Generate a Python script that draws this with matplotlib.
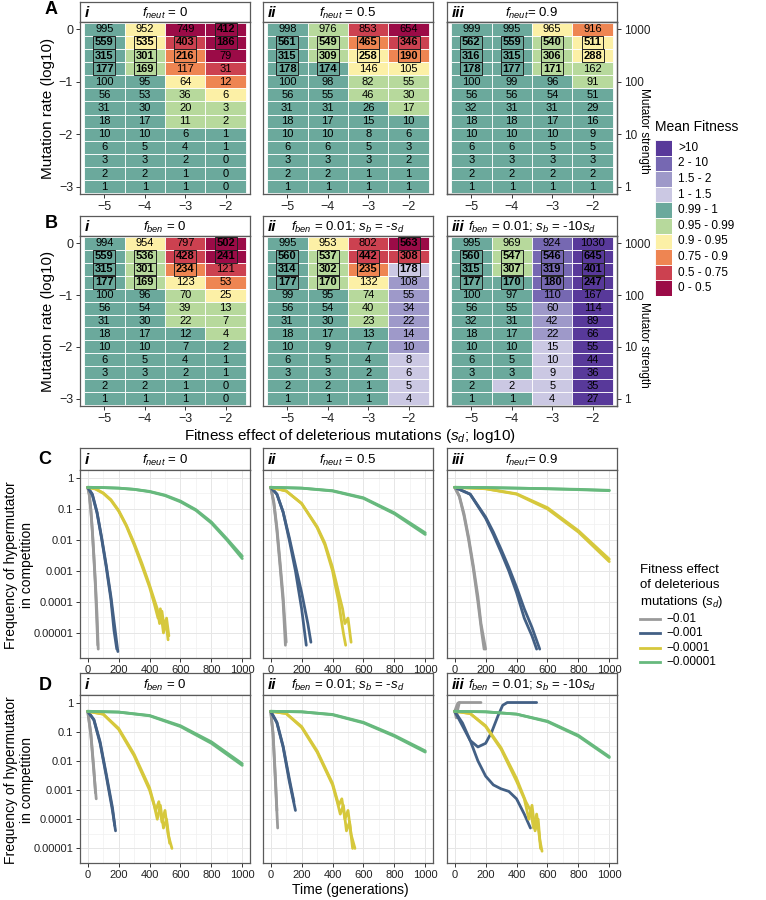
import numpy as np
import matplotlib
matplotlib.use("Agg")
import matplotlib.pyplot as plt
from matplotlib.patches import Rectangle
from matplotlib.lines import Line2D

plt.rcParams['font.family'] = ['Liberation Sans', 'DejaVu Sans']
plt.rcParams['mathtext.fontset'] = 'custom'
plt.rcParams['mathtext.rm'] = 'Liberation Sans'
plt.rcParams['mathtext.it'] = 'Liberation Sans:italic'
plt.rcParams['mathtext.bf'] = 'Liberation Sans:bold'

# ---------------- heatmap data (columns: s_d = -5, -4, -3, -2; rows: mutation rate 0 .. -3) ----
sd_log = [-5, -4, -3, -2]
mut_rate = [0.0, -0.25, -0.5, -0.75, -1.0, -1.25, -1.5, -1.75, -2.0, -2.25, -2.5, -2.75, -3.0]
strength_ticks = [0, -1, -2, -3]
strength_labels = ["1000", "100", "10", "1"]

fit_labels = ["0 - 0.5", "0.5 - 0.75", "0.75 - 0.9", "0.9 - 0.95", "0.95 - 0.99",
              "0.99 - 1", "1 - 1.5", "1.5 - 2", "2 - 10", ">10"]
fit_colors = ["#9b0b47", "#cc4150", "#ee8552", "#fcf0a6", "#b7d99c",
              "#6ba99c", "#cbc8e3", "#9e99c9", "#7668b2", "#58399a"]

a1_counts = [[995, 559, 315, 177, 100, 56, 31, 18, 10, 6, 3, 2, 1],
             [952, 535, 301, 169, 95, 53, 30, 17, 10, 5, 3, 2, 1],
             [749, 403, 216, 117, 64, 36, 20, 11, 6, 4, 2, 1, 1],
             [412, 186, 79, 31, 12, 6, 3, 2, 1, 1, 0, 0, 0]]
a1_cats = [[5] * 13,
           [3, 3, 4, 4, 5, 5, 5, 5, 5, 5, 5, 5, 5],
           [0, 1, 2, 2, 3, 4, 4, 4, 5, 5, 5, 5, 5],
           [0, 0, 0, 1, 2, 3, 4, 4, 5, 5, 5, 5, 5]]
a1_boxed = [[1, 2, 3], [1, 2, 3], [1, 2], [0, 1]]

a2_counts = [[998, 561, 315, 178, 100, 56, 31, 18, 10, 6, 3, 2, 1],
             [976, 549, 309, 174, 98, 55, 31, 17, 10, 6, 3, 2, 1],
             [853, 465, 258, 146, 82, 46, 26, 15, 8, 5, 3, 1, 1],
             [654, 346, 190, 105, 55, 30, 17, 10, 6, 3, 2, 1, 1]]
a2_cats = [[5] * 13,
           [4, 4, 4, 5, 5, 5, 5, 5, 5, 5, 5, 5, 5],
           [1, 2, 3, 3, 4, 4, 5, 5, 5, 5, 5, 5, 5],
           [0, 1, 2, 3, 4, 4, 4, 5, 5, 5, 5, 5, 5]]
a2_boxed = [[1, 2, 3], [1, 2, 3], [1, 2], [1, 2]]

a3_counts = [[999, 562, 316, 178, 100, 56, 32, 18, 10, 6, 3, 2, 1],
             [995, 559, 315, 177, 99, 56, 31, 18, 10, 6, 3, 2, 1],
             [965, 540, 306, 171, 96, 54, 31, 17, 10, 5, 3, 2, 1],
             [916, 511, 288, 162, 91, 51, 29, 16, 9, 5, 3, 2, 1]]
a3_cats = [[5] * 13,
           [5] * 13,
           [3, 4, 4, 4, 5, 5, 5, 5, 5, 5, 5, 5, 5],
           [2, 3, 3, 4, 4, 5, 5, 5, 5, 5, 5, 5, 5]]
a3_boxed = [[1, 2, 3], [1, 2, 3], [1, 2, 3], [1, 2]]

b1_counts = [[994, 559, 315, 177, 100, 56, 31, 18, 10, 6, 3, 2, 1],
             [954, 536, 301, 169, 96, 54, 30, 17, 10, 5, 3, 2, 1],
             [797, 428, 234, 123, 70, 39, 22, 12, 7, 4, 2, 1, 1],
             [502, 241, 121, 53, 25, 13, 7, 4, 2, 1, 1, 0, 0]]
b1_cats = [[5] * 13,
           [3, 4, 4, 4, 5, 5, 5, 5, 5, 5, 5, 5, 5],
           [1, 1, 2, 3, 4, 4, 4, 5, 5, 5, 5, 5, 5],
           [0, 0, 1, 2, 3, 4, 4, 4, 5, 5, 5, 5, 5]]
b1_boxed = [[1, 2, 3], [1, 2, 3], [1, 2], [0, 1]]

b2_counts = [[995, 560, 314, 177, 99, 56, 31, 18, 10, 6, 3, 2, 1],
             [953, 537, 302, 170, 95, 54, 30, 17, 9, 5, 3, 2, 1],
             [802, 442, 235, 132, 74, 40, 23, 13, 7, 4, 2, 1, 1],
             [563, 308, 178, 108, 55, 34, 22, 14, 10, 8, 6, 5, 4]]
b2_cats = [[5] * 13,
           [3, 4, 4, 4, 5, 5, 5, 5, 5, 5, 5, 5, 5],
           [1, 1, 2, 3, 4, 4, 4, 5, 5, 5, 5, 5, 5],
           [0, 1, 6, 7, 7, 7, 7, 7, 7, 6, 6, 6, 6]]
b2_boxed = [[1, 2, 3], [1, 2, 3], [1, 2], [0, 1, 2]]

b3_counts = [[995, 560, 315, 177, 100, 56, 32, 18, 10, 6, 3, 2, 1],
             [969, 547, 307, 170, 97, 55, 31, 17, 10, 5, 3, 2, 1],
             [924, 546, 319, 180, 110, 60, 42, 22, 15, 10, 9, 5, 4],
             [1030, 645, 401, 247, 167, 114, 89, 66, 55, 44, 36, 35, 27]]
b3_cats = [[5] * 13,
           [4, 4, 4, 5, 5, 5, 5, 5, 5, 5, 5, 6, 5],
           [8, 8, 8, 8, 8, 7, 7, 7, 6, 6, 6, 6, 6],
           [9] * 13]
b3_boxed = [[1, 2, 3], [1, 2, 3], [1, 2, 3], [1, 2, 3]]

# ---------------- competition trajectories (generation, frequency), two replicates each ----
sd_labels = ["\u22120.01", "\u22120.001", "\u22120.0001", "\u22120.00001"]
sd_colors = ["#9a9a9a", "#436085", "#d6c83c", "#67b97d"]

c1_gray = [([0, 10, 20, 30, 40, 50, 60, 68], [0.5, 0.3, 0.1, 0.02, 3e-3, 4e-4, 4e-5, 3e-6]),
           ([0, 10, 20, 30, 40, 50, 58, 65], [0.5, 0.28, 0.09, 0.018, 2.5e-3, 3e-4, 3e-5, 4e-6])]
c1_blue = [([0, 30, 60, 90, 120, 150, 175, 195], [0.5, 0.3, 0.08, 0.012, 1.5e-3, 1.5e-4, 1.5e-5, 2.5e-6]),
           ([0, 30, 60, 90, 120, 150, 170, 188], [0.5, 0.28, 0.075, 0.011, 1.3e-3, 1.2e-4, 1.2e-5, 3e-6])]
c1_yellow = [([0, 50, 100, 150, 200, 250, 300, 350, 400, 430, 450, 465, 480, 495, 510, 525],
              [0.5, 0.45, 0.33, 0.2, 0.09, 0.03, 8e-3, 1.8e-3, 3.5e-4, 1.2e-4, 6e-5, 2e-5, 5e-5, 1.5e-5, 3e-5, 8e-6]),
             ([0, 50, 100, 150, 200, 250, 300, 350, 400, 430, 455, 470, 490, 505, 520],
              [0.5, 0.44, 0.32, 0.19, 0.085, 0.028, 7e-3, 1.5e-3, 3e-4, 9e-5, 3e-5, 6e-5, 1e-5, 2.5e-5, 6e-6])]
c1_green = [([0, 100, 200, 300, 400, 500, 600, 700, 800, 900, 1000],
             [0.5, 0.49, 0.47, 0.43, 0.36, 0.27, 0.17, 0.09, 0.035, 0.01, 0.0025]),
            ([0, 100, 200, 300, 400, 500, 600, 700, 800, 900, 1000],
             [0.5, 0.49, 0.47, 0.43, 0.37, 0.28, 0.18, 0.095, 0.038, 0.011, 0.003])]

c2_gray = [([0, 20, 40, 60, 80, 95], [0.5, 0.15, 0.02, 1.5e-3, 1e-4, 4e-6]),
           ([0, 20, 40, 60, 80, 100], [0.5, 0.17, 0.025, 2e-3, 1.5e-4, 5e-6])]
c2_blue = [([0, 40, 80, 120, 160, 200, 230], [0.5, 0.3, 0.08, 0.01, 1e-3, 6e-5, 4e-6]),
           ([0, 40, 80, 120, 160, 200, 240, 260], [0.5, 0.3, 0.08, 0.012, 1.5e-3, 2e-4, 2e-5, 5e-6])]
c2_yellow = [([0, 100, 200, 300, 350, 400, 420, 440, 455, 470, 485],
              [0.5, 0.38, 0.15, 0.025, 7e-3, 1e-3, 3e-4, 1e-4, 3e-5, 1e-5, 4e-6]),
             ([0, 100, 200, 300, 350, 400, 425, 445, 465, 480, 500, 520],
              [0.5, 0.38, 0.15, 0.027, 8e-3, 1.3e-3, 4e-4, 1.5e-4, 6e-5, 2e-5, 3e-5, 5e-6])]
c2_green = [([0, 200, 400, 600, 800, 1000], [0.5, 0.47, 0.38, 0.22, 0.07, 0.015]),
            ([0, 200, 400, 600, 800, 1000], [0.5, 0.47, 0.39, 0.23, 0.075, 0.017])]

c3_gray = [([0, 30, 60, 90, 120, 150, 175, 190], [0.5, 0.25, 0.06, 0.01, 1.2e-3, 1e-4, 1e-5, 3e-6]),
           ([0, 30, 60, 90, 120, 150, 170, 200], [0.5, 0.26, 0.07, 0.012, 1.5e-3, 1.5e-4, 2e-5, 3e-6])]
c3_blue = [([0, 100, 200, 250, 300, 350, 400, 450, 500, 530],
            [0.5, 0.3, 0.05, 0.015, 4e-3, 1e-3, 2e-4, 3e-5, 8e-6, 3e-6]),
           ([0, 100, 200, 250, 300, 350, 400, 450, 500, 550],
            [0.5, 0.3, 0.055, 0.018, 5e-3, 1.3e-3, 3e-4, 6e-5, 1.5e-5, 3e-6])]
c3_yellow = [([0, 200, 400, 600, 800, 1000], [0.5, 0.45, 0.3, 0.1, 0.018, 0.002]),
             ([0, 200, 400, 600, 800, 1000], [0.5, 0.45, 0.31, 0.11, 0.02, 0.0024])]
c3_green = [([0, 200, 400, 600, 800, 1000], [0.5, 0.49, 0.47, 0.45, 0.43, 0.4]),
            ([0, 200, 400, 600, 800, 1000], [0.5, 0.49, 0.47, 0.45, 0.42, 0.39])]

d1_gray = [([0, 20, 40, 55], [0.5, 0.08, 4e-3, 5e-4]),
           ([0, 20, 40, 50], [0.5, 0.09, 5e-3, 8e-4])]
d1_blue = [([0, 40, 80, 120, 160, 180], [0.5, 0.25, 0.04, 3e-3, 2e-4, 4e-5]),
           ([0, 40, 80, 120, 160, 175], [0.5, 0.26, 0.045, 3.5e-3, 2.5e-4, 6e-5])]
d1_yellow = [([0, 100, 200, 300, 400, 430, 450, 470, 490, 510, 530],
              [0.5, 0.4, 0.12, 0.015, 1e-3, 3e-4, 1e-4, 3e-4, 5e-5, 1e-4, 1.5e-5]),
             ([0, 100, 200, 300, 400, 440, 460, 480, 500, 520, 545],
              [0.5, 0.4, 0.13, 0.017, 1.2e-3, 2e-4, 4e-4, 8e-5, 2e-4, 3e-5, 1e-5])]
d1_green = [([0, 200, 400, 600, 800, 1000], [0.5, 0.47, 0.35, 0.15, 0.04, 0.007]),
            ([0, 200, 400, 600, 800, 1000], [0.5, 0.47, 0.36, 0.16, 0.045, 0.008])]

d2_gray = [([0, 15, 30, 45], [0.5, 0.08, 2e-3, 5e-5]),
           ([0, 15, 30, 40], [0.5, 0.09, 3e-3, 2e-4])]
d2_blue = [([0, 40, 80, 120, 160], [0.5, 0.2, 0.03, 2e-3, 2e-4]),
           ([0, 40, 80, 120, 150], [0.5, 0.21, 0.032, 2.5e-3, 4e-4])]
d2_yellow = [([0, 100, 200, 300, 400, 430, 450, 470, 490, 510, 530],
              [0.5, 0.42, 0.14, 0.02, 1.5e-3, 4e-4, 1.5e-4, 3e-4, 4e-5, 8e-5, 1e-5]),
             ([0, 100, 200, 300, 400, 440, 460, 480, 500, 520, 545],
              [0.5, 0.42, 0.15, 0.022, 1.7e-3, 3e-4, 5e-4, 1e-4, 2e-4, 3e-5, 1e-5])]
d2_green = [([0, 200, 400, 600, 800, 1000], [0.5, 0.48, 0.38, 0.2, 0.07, 0.02]),
            ([0, 200, 400, 600, 800, 1000], [0.5, 0.48, 0.39, 0.21, 0.075, 0.022])]

d3_gray = [([0, 10, 20, 30, 100, 170], [0.5, 0.7, 0.95, 1.0, 1.0, 1.0]),
           ([0, 10, 20, 30], [0.5, 0.3, 0.6, 1.0])]
d3_blue = [([0, 40, 100, 150, 200, 240, 280, 310, 340, 450, 530],
            [0.5, 0.2, 0.05, 0.03, 0.04, 0.1, 0.35, 0.8, 1.0, 1.0, 1.0]),
           ([0, 50, 100, 150, 200, 250, 300, 350, 400, 450, 490],
            [0.5, 0.2, 0.05, 0.01, 3e-3, 1.5e-3, 1.1e-3, 9e-4, 5e-4, 1.5e-4, 5e-5])]
d3_yellow = [([0, 100, 200, 300, 400, 450, 480, 500, 520, 540, 555],
              [0.5, 0.42, 0.15, 0.025, 2e-3, 5e-4, 1e-4, 3e-4, 4e-5, 1e-4, 1e-5]),
             ([0, 100, 200, 300, 400, 460, 490, 510, 530, 550, 565],
              [0.5, 0.42, 0.16, 0.028, 2.5e-3, 4e-4, 2e-4, 5e-5, 1.5e-4, 2e-5, 8e-6])]
d3_green = [([0, 200, 400, 600, 800, 1000], [0.5, 0.48, 0.4, 0.22, 0.07, 0.013]),
            ([0, 200, 400, 600, 800, 1000], [0.5, 0.48, 0.4, 0.23, 0.075, 0.014])]

freq_ticks = [1, 0.1, 0.01, 0.001, 0.0001, 0.00001]
freq_labels = ["1", "0.1", "0.01", "0.001", "0.0001", "0.00001"]
time_ticks = [0, 200, 400, 600, 800, 1000]

strip_a = [r"$f_{neut}$ = 0", r"$f_{neut}$ = 0.5", r"$f_{neut}$= 0.9"]
strip_b = [r"$f_{ben}$ = 0", r"$f_{ben}$ = 0.01; $s_b$ = -$s_d$", r"$f_{ben}$ = 0.01; $s_b$ = -10$s_d$"]
roman = ["i", "ii", "iii"]

# ---------------- layout helpers ----------------
W, H = 766, 900
fig = plt.figure(figsize=(W / 100, H / 100), dpi=100)
EDGE = "#5a5a5a"


def px_axes(x0, y0, x1, y1):
    return fig.add_axes([x0 / W, 1 - y1 / H, (x1 - x0) / W, (y1 - y0) / H])


def strip(x0, x1, y0, y1, label, title):
    ax = px_axes(x0, y0, x1, y1)
    ax.set_xticks([])
    ax.set_yticks([])
    for s in ax.spines.values():
        s.set_color(EDGE)
        s.set_linewidth(0.9)
    ax.text(0.025, 0.45, label, transform=ax.transAxes, ha="left", va="center",
            fontsize=11, fontweight="bold", fontstyle="italic")
    ax.text(0.5, 0.45, title, transform=ax.transAxes, ha="center", va="center", fontsize=9.5)


def style_ax(ax, size=8.5):
    for s in ax.spines.values():
        s.set_color(EDGE)
        s.set_linewidth(0.9)
    ax.tick_params(length=3, width=0.7, color="#333333", labelsize=size, labelcolor="#222222", pad=2)


def heat(ax, counts, cats, boxed):
    for j, x in enumerate(sd_log):
        for i, y in enumerate(mut_rate):
            ax.add_patch(Rectangle((x - 0.5, y - 0.125), 1, 0.25, fc=fit_colors[cats[j][i]],
                                   ec="white", lw=0.6))
            if i in boxed[j]:
                ax.text(x, y, str(counts[j][i]), ha="center", va="center", fontsize=8,
                        fontweight="bold",
                        bbox=dict(boxstyle="square,pad=0.15", fc="none", ec="#222222", lw=0.7))
            else:
                ax.text(x, y, str(counts[j][i]), ha="center", va="center", fontsize=8)
    ax.set_xlim(-5.6, -1.4)
    ax.set_ylim(-3.14, 0.14)
    ax.set_xticks(sd_log)
    ax.set_yticks(strength_ticks)
    style_ax(ax, 9)


def traj(ax, lines, ylim):
    for reps, col in zip(lines, sd_colors):
        for t, f in reps:
            ax.plot(t, f, color=col, lw=2.0, solid_capstyle="round", solid_joinstyle="round")
    ax.set_yscale("log")
    ax.set_ylim(*ylim)
    ax.set_xlim(-50, 1050)
    ax.set_xticks(time_ticks)
    ax.set_xticks([100, 300, 500, 700, 900], minor=True)
    ax.set_yticks(freq_ticks)
    ax.set_yticks([10 ** (-k - 0.5) for k in range(6)], minor=True)
    ax.set_yticklabels(freq_labels)
    ax.grid(True, which="major", color="#e6e6e6", lw=0.7)
    ax.grid(True, which="minor", color="#f0f0f0", lw=0.5)
    ax.set_axisbelow(True)
    style_ax(ax, 8)
    ax.tick_params(which="minor", length=0)


cols_px = [(80, 250), (263, 433), (447, 617)]

# ---------------- A & B heatmaps ----------------
heat_rows = [
    (2, 22, 194, 131, strip_a, [(a1_counts, a1_cats, a1_boxed), (a2_counts, a2_cats, a2_boxed),
                                (a3_counts, a3_cats, a3_boxed)]),
    (216, 236, 406, 345, strip_b, [(b1_counts, b1_cats, b1_boxed), (b2_counts, b2_cats, b2_boxed),
                                   (b3_counts, b3_cats, b3_boxed)]),
]
for ys0, ys1, yp1, ms_y, titles, panels in heat_rows:
    for k, ((x0, x1), (cnt, cat, box)) in enumerate(zip(cols_px, panels)):
        strip(x0, x1, ys0, ys1, roman[k], titles[k])
        ax = px_axes(x0, ys1, x1, yp1)
        heat(ax, cnt, cat, box)
        if k == 0:
            ax.set_yticklabels(["0", "\u22121", "\u22122", "\u22123"])
            ax.set_ylabel("Mutation rate (log10)", fontsize=11, labelpad=3)
        else:
            ax.set_yticklabels([])
            ax.tick_params(axis="y", length=0)
        ax.set_xticklabels(["\u22125", "\u22124", "\u22123", "\u22122"])
        if k == 2:
            ax2 = ax.twinx()
            ax2.set_ylim(ax.get_ylim())
            ax2.set_yticks(strength_ticks)
            ax2.set_yticklabels(strength_labels)
            style_ax(ax2, 8.5)
            fig.text(644 / W, 1 - ms_y / H, "Mutator strength", rotation=270,
                     ha="center", va="center", fontsize=8.5)

fig.text(350 / W, 1 - 436 / H, r"Fitness effect of deleterious mutations ($s_d$; log10)",
         ha="center", va="center", fontsize=11)

# ---------------- C & D trajectories ----------------
traj_rows = [
    (448, 470, 658, 565, strip_a, (1.55e-6, 1.81), [[c1_gray, c1_blue, c1_yellow, c1_green],
                                                    [c2_gray, c2_blue, c2_yellow, c2_green],
                                                    [c3_gray, c3_blue, c3_yellow, c3_green]]),
    (673, 695, 863, 780, strip_b, (6.9e-6, 1.81), [[d1_gray, d1_blue, d1_yellow, d1_green],
                                                   [d2_gray, d2_blue, d2_yellow, d2_green],
                                                   [d3_gray, d3_blue, d3_yellow, d3_green]]),
]
for ys0, ys1, yp1, lab_y, titles, ylim, panels in traj_rows:
    for k, ((x0, x1), lines) in enumerate(zip(cols_px, panels)):
        strip(x0, x1, ys0, ys1, roman[k], titles[k])
        ax = px_axes(x0, ys1, x1, yp1)
        traj(ax, lines, ylim)
        if k > 0:
            ax.set_yticklabels([])
            ax.tick_params(axis="y", which="major", length=0)
    fig.text(19 / W, 1 - lab_y / H, "Frequency of hypermutator\nin competition", rotation=90,
             ha="center", va="center", fontsize=10, linespacing=1.2)

fig.text(350 / W, 1 - 890 / H, "Time (generations)", ha="center", va="center", fontsize=10)

# ---------------- panel letters ----------------
for letter, (lx, ly) in zip("ABCD", [(51, 9), (51, 224), (45, 460), (45, 685)]):
    fig.text(lx / W, 1 - ly / H, letter, ha="center", va="center", fontsize=13, fontweight="bold")

# ---------------- Mean Fitness legend ----------------
fig.text(655 / W, 1 - 127 / H, "Mean Fitness", ha="left", va="center", fontsize=10)
key_h = 15.6
for n, idx in enumerate(range(9, -1, -1)):
    ky = 140 + n * key_h
    lax = px_axes(655, ky, 672, ky + key_h)
    lax.add_patch(Rectangle((0, 0), 1, 1, fc=fit_colors[idx], ec="white", lw=0.6))
    lax.set_axis_off()
    fig.text(678 / W, 1 - (ky + key_h / 2) / H, fit_labels[idx], ha="left", va="center", fontsize=8.5)

# ---------------- s_d legend ----------------
fig.text(640 / W, 1 - 587 / H, "Fitness effect\nof deleterious\nmutations ($s_d$)",
         ha="left", va="center", fontsize=9.5, linespacing=1.3)
for n, (lab, col) in enumerate(zip(sd_labels, sd_colors)):
    yy = 1 - (619 + n * 14.3) / H
    fig.add_artist(Line2D([640 / W, 660 / W], [yy, yy], color=col, lw=2.0))
    fig.text(666 / W, yy, lab, ha="left", va="center", fontsize=8.5)

fig.savefig("out.png", dpi=100)
